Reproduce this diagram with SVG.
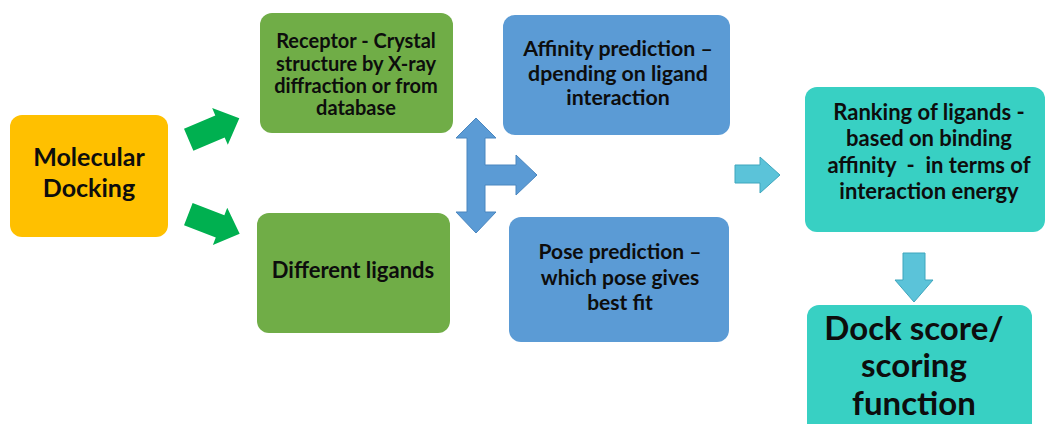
<svg xmlns="http://www.w3.org/2000/svg" width="1049" height="424" viewBox="0 0 1049 424">
<style>
.t{font-family:Lato,"Liberation Sans",sans-serif;font-weight:bold;fill:#0d0d0d;text-anchor:middle}
.s{font-size:20px}
.a{font-size:21.3px}
.p{font-size:22px}
.q{font-size:21px}
.m{font-size:25px}
.l{font-size:33px}
.ga{fill:#00B050}
.ba{fill:#5B9BD5;stroke:#4a86bf;stroke-width:1}
.la{fill:#5BC3D9;stroke:#3fa6bd;stroke-width:1}
</style>
<rect width="1049" height="424" fill="#ffffff"/>
<g id="n-docking">
<rect x="10" y="115" width="158" height="122" rx="12" fill="#FFC000"/>
<text class="t m" x="89" y="166">Molecular</text>
<text class="t m" x="89" y="197">Docking</text>
</g>
<g id="n-receptor">
<rect x="260" y="13" width="193" height="120" rx="12" fill="#70AD47"/>
<text class="t s" x="356" y="48">Receptor - Crystal</text>
<text class="t s" x="356" y="71">structure by X-ray</text>
<text class="t s" x="356" y="93">diffraction  or from</text>
<text class="t s" x="356" y="115">database</text>
</g>
<g id="n-ligands">
<rect x="257" y="213" width="193" height="120" rx="12" fill="#70AD47"/>
<text class="t p" x="353" y="278">Different ligands</text>
</g>
<g id="n-affinity">
<rect x="503" y="15" width="227" height="120" rx="12" fill="#5B9BD5"/>
<text class="t a" x="618" y="56">Affinity prediction –</text>
<text class="t a" x="618" y="81">dpending on ligand</text>
<text class="t a" x="618" y="105">interaction</text>
</g>
<g id="n-pose">
<rect x="509" y="217" width="220" height="125" rx="12" fill="#5B9BD5"/>
<text class="t q" x="620" y="259">Pose prediction –</text>
<text class="t q" x="620" y="284.5">which pose gives</text>
<text class="t q" x="620" y="310">best fit</text>
</g>
<g id="n-ranking">
<rect x="805" y="87" width="240" height="145" rx="12" fill="#38D0C3"/>
<text class="t p" x="929" y="120">Ranking of ligands -</text>
<text class="t p" x="929" y="146">based on binding</text>
<text class="t p" x="929" y="173" xml:space="preserve">affinity  -  in terms of</text>
<text class="t p" x="929" y="199">interaction energy</text>
</g>
<g id="n-score">
<rect x="807" y="305" width="225" height="135" rx="12" fill="#38D0C3"/>
<text class="t l" x="914" y="340">Dock score/</text>
<text class="t l" x="914" y="377">scoring</text>
<text class="t l" x="914" y="415">function</text>
</g>
<g id="connectors">
<path class="ga" transform="translate(214,129) rotate(-23)" d="M-27.5,-12 L6.5,-12 L6.5,-20 L27.5,0 L6.5,20 L6.5,12 L-27.5,12 Z"/>
<path class="ga" transform="translate(214,224) rotate(21)" d="M-27.5,-12 L6.5,-12 L6.5,-20 L27.5,0 L6.5,20 L6.5,12 L-27.5,12 Z"/>
<path class="ba" d="M476,118 L496,138 L485,138 L485,165 L516,165 L516,155 L537,175 L516,195 L516,185 L485,185 L485,212 L496,212 L476,233 L456,212 L467,212 L467,138 L456,138 Z"/>
<path class="la" d="M735,165 L760,165 L760,157 L780,175 L760,193 L760,183 L735,183 Z"/>
<path class="la" d="M903,253 L925,253 L925,280 L933,280 L914,302 L895,280 L903,280 Z"/>
</g>
</svg>
